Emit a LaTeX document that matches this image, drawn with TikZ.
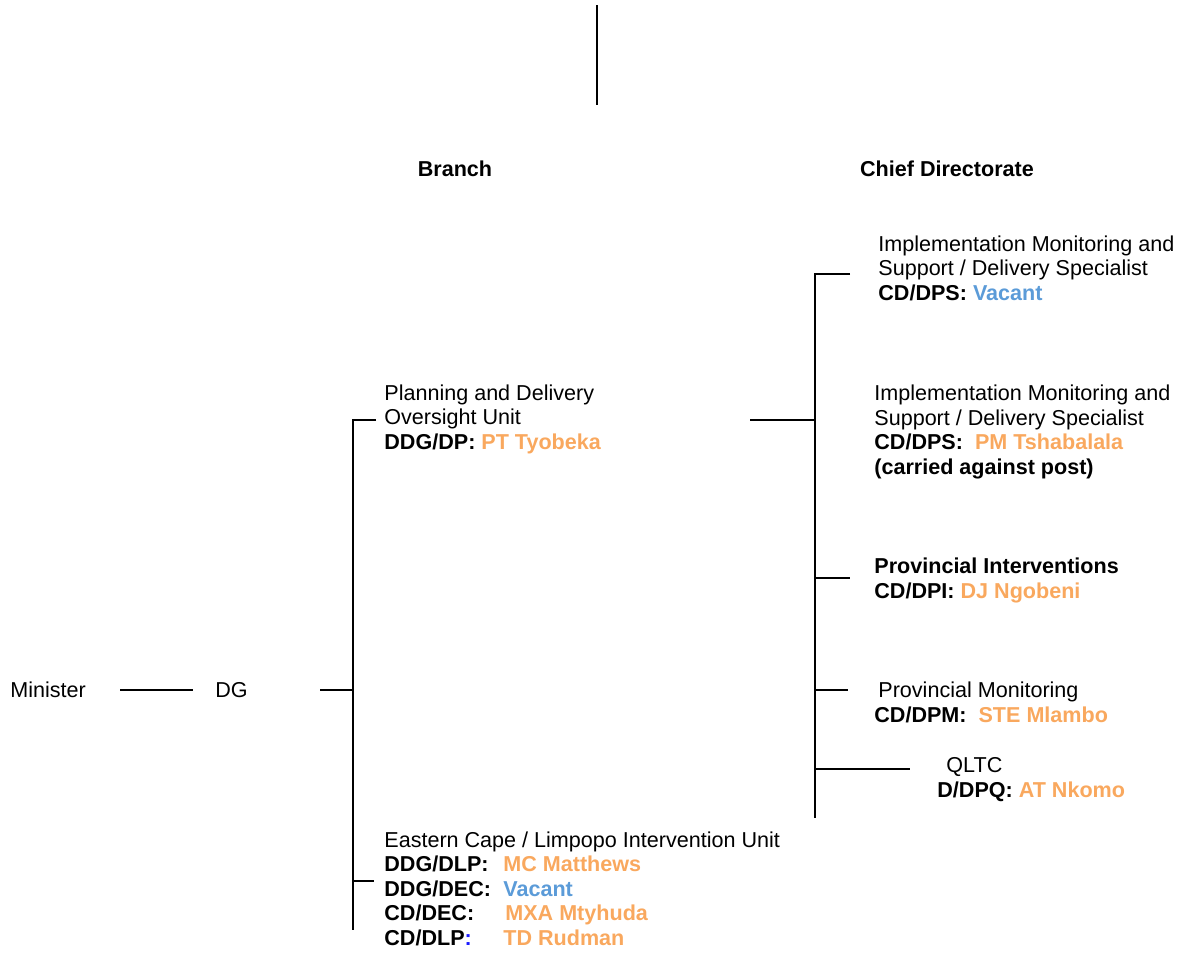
\documentclass[tikz,border=0pt]{standalone}
\usepackage{fontspec}
\setmainfont{Liberation Sans}
\definecolor{org}{HTML}{F9A85E}
\definecolor{vac}{HTML}{5B9BD8}
\definecolor{colb}{HTML}{1A1AFF}
\begin{document}
\begin{tikzpicture}[x=0.5pt,y=-0.5pt,
  txt/.style={inner sep=0pt, align=left, anchor=base west, font=\fontsize{10.78}{12.25}\selectfont},
  hdr/.style={inner sep=0pt, anchor=base, font=\fontsize{10.78}{12.25}\selectfont\bfseries},
  ln/.style={line width=0.75pt, black}]
\useasboundingbox (0,0) rectangle (1186,953);
% top line
\coordinate (t1) at (597,5);
\coordinate (t2) at (597,105);
\draw[ln] (t1) -- (t2);
% headers
\node[hdr] (branch) at (455,176) {Branch};
\node[hdr] (chief) at (947,176) {Chief Directorate};
% left chain
\node[txt] (min) at (10,697) {Minister};
\node[txt] (dg) at (215,697) {DG};
\coordinate (m1) at (120,690);
\coordinate (m2) at (193,690);
\draw[ln] (m1) -- (m2);
\coordinate (d1) at (320,690);
\coordinate (d2) at (353,690);
\draw[ln] (d1) -- (d2);
% branch bracket
\coordinate (b1) at (353,420);
\coordinate (b2) at (353,930);
\coordinate (b1r) at (376,420);
\coordinate (b3) at (353,881);
\coordinate (b3r) at (374,881);
\draw[ln] (b1r) -- (b1) -- (b2);
\draw[ln] (b3) -- (b3r);
% branch nodes
\node[txt] (pdo) at (384,449) {Planning and Delivery\\Oversight Unit\\\textbf{DDG/DP: \textcolor{org}{PT Tyobeka}}};
\node[txt] (ec) at (384,945) {Eastern Cape / Limpopo Intervention Unit\\
\textbf{\makebox[59.5pt][l]{DDG/DLP:}\textcolor{org}{MC Matthews}}\\
\textbf{\makebox[59.5pt][l]{DDG/DEC:}\textcolor{vac}{Vacant}}\\
\textbf{\makebox[60.5pt][l]{CD/DEC:}\textcolor{org}{MXA Mtyhuda}}\\
\textbf{\makebox[59.5pt][l]{CD/DLP\textcolor{colb}{:}}\textcolor{org}{TD Rudman}}};
% chief directorate bracket
\coordinate (p1) at (750,420);
\coordinate (p2) at (815,420);
\draw[ln] (p1) -- (p2);
\coordinate (c1) at (815,274);
\coordinate (c1r) at (850,274);
\coordinate (c2) at (815,818);
\coordinate (c3) at (815,578);
\coordinate (c3r) at (850,578);
\coordinate (c4) at (815,690);
\coordinate (c4r) at (848,690);
\coordinate (c5) at (815,769);
\coordinate (c5r) at (910,769);
\draw[ln] (c1r) -- (c1) -- (c2);
\draw[ln] (c3) -- (c3r);
\draw[ln] (c4) -- (c4r);
\draw[ln] (c5) -- (c5r);
% chief directorate nodes
\node[txt] (cd1) at (878,300) {Implementation Monitoring and\\Support / Delivery Specialist\\\textbf{CD/DPS: \textcolor{vac}{Vacant}}};
\node[txt] (cd2) at (874,474) {Implementation Monitoring and\\Support / Delivery Specialist\\\textbf{CD/DPS:\ \ \textcolor{org}{PM Tshabalala}}\\\textbf{(carried against post)}};
\node[txt] (cd3) at (874,598) {\textbf{Provincial Interventions}\\\textbf{CD/DPI: \textcolor{org}{DJ Ngobeni}}};
\node[txt] (cd4) at (874,722) {\hspace*{2pt}Provincial Monitoring\\\textbf{CD/DPM:\ \ \textcolor{org}{STE Mlambo}}};
\node[txt] (cd5) at (937,797) {\hspace*{4.5pt}QLTC\\\textbf{D/DPQ: \textcolor{org}{AT Nkomo}}};
\end{tikzpicture}
\end{document}
